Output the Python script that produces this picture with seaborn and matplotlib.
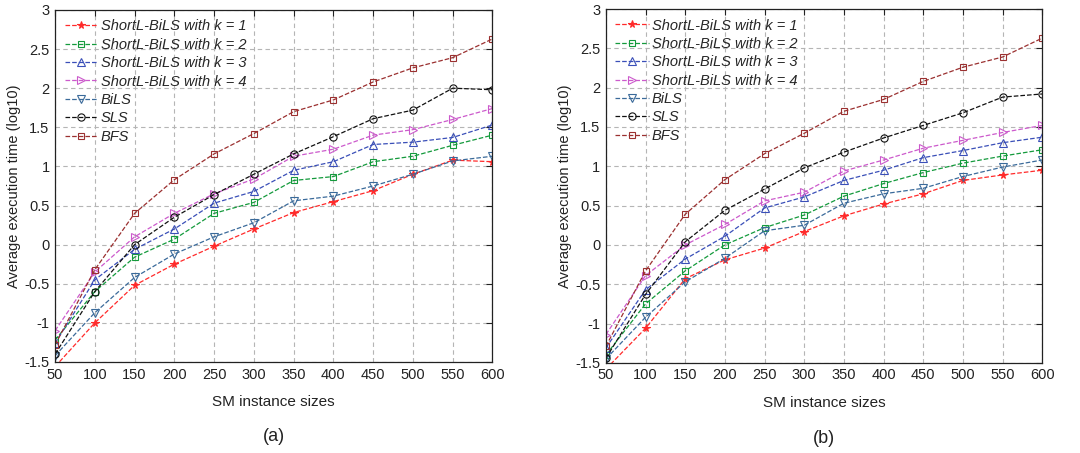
import numpy as np
import pandas as pd
import matplotlib
matplotlib.use("Agg")
import matplotlib.pyplot as plt
import seaborn as sns

sns.set_style("white")
plt.rcParams['font.family'] = ['Liberation Sans', 'DejaVu Sans']

sizes = [50, 100, 150, 200, 250, 300, 350, 400, 450, 500, 550, 600]
names = ['ShortL-BiLS with k = 1', 'ShortL-BiLS with k = 2', 'ShortL-BiLS with k = 3',
         'ShortL-BiLS with k = 4', 'BiLS', 'SLS', 'BFS']

# panel (a)
a_k1 = [-1.56, -1.0, -0.52, -0.25, -0.02, 0.2, 0.41, 0.55, 0.69, 0.9, 1.08, 1.06]
a_k2 = [-1.22, -0.6, -0.16, 0.07, 0.4, 0.54, 0.82, 0.87, 1.06, 1.13, 1.27, 1.4]
a_k3 = [-1.26, -0.45, -0.06, 0.2, 0.53, 0.68, 0.95, 1.06, 1.28, 1.31, 1.37, 1.53]
a_k4 = [-1.1, -0.35, 0.1, 0.4, 0.65, 0.84, 1.13, 1.22, 1.4, 1.47, 1.6, 1.74]
a_bils = [-1.42, -0.87, -0.42, -0.12, 0.1, 0.28, 0.56, 0.62, 0.75, 0.9, 1.07, 1.13]
a_sls = [-1.4, -0.6, 0.0, 0.35, 0.64, 0.9, 1.16, 1.38, 1.61, 1.72, 2.0, 1.98]
a_bfs = [-1.28, -0.32, 0.4, 0.83, 1.16, 1.42, 1.7, 1.85, 2.08, 2.26, 2.39, 2.63]

# panel (b)
b_k1 = [-1.58, -1.06, -0.43, -0.19, -0.04, 0.17, 0.37, 0.52, 0.65, 0.82, 0.89, 0.95]
b_k2 = [-1.4, -0.75, -0.33, 0.0, 0.22, 0.38, 0.62, 0.78, 0.92, 1.04, 1.13, 1.21]
b_k3 = [-1.31, -0.57, -0.18, 0.11, 0.47, 0.61, 0.82, 0.95, 1.11, 1.2, 1.3, 1.37]
b_k4 = [-1.14, -0.39, 0.0, 0.26, 0.56, 0.67, 0.94, 1.08, 1.23, 1.33, 1.43, 1.52]
b_bils = [-1.45, -0.92, -0.47, -0.17, 0.18, 0.25, 0.53, 0.65, 0.72, 0.87, 0.99, 1.08]
b_sls = [-1.44, -0.63, 0.04, 0.44, 0.71, 0.98, 1.18, 1.36, 1.52, 1.68, 1.88, 1.92]
b_bfs = [-1.29, -0.33, 0.39, 0.83, 1.16, 1.42, 1.7, 1.85, 2.08, 2.26, 2.39, 2.63]

colors = ['#ff2a2a', '#149a3c', '#3a4fb8', '#cc5acc', '#3a6a9a', '#111111', '#9b3030']
markers = ['*', 's', '^', '>', 'v', 'o', 's']
msizes = [5.5, 4.5, 5.5, 5.5, 5.5, 5.2, 4.5]

panels = [
    ('(a)', [a_k1, a_k2, a_k3, a_k4, a_bils, a_sls, a_bfs]),
    ('(b)', [b_k1, b_k2, b_k3, b_k4, b_bils, b_sls, b_bfs]),
]

fig = plt.figure(figsize=(10.8, 4.53), dpi=100)
boxes = [[0.051, 0.201, 0.405, 0.777], [0.561, 0.199, 0.404, 0.781]]

for (tag, series), box in zip(panels, boxes):
    ax = fig.add_axes(box)
    rows = []
    for name, vals in zip(names, series):
        for s, v in zip(sizes, vals):
            rows.append({'size': s, 'time': v, 'method': name})
    df = pd.DataFrame(rows)
    for name, c, m, ms in zip(names, colors, markers, msizes):
        sub = df[df['method'] == name]
        sns.lineplot(data=sub, x='size', y='time', ax=ax, color=c, marker=m,
                     linestyle='--', linewidth=0.9, markersize=ms,
                     markerfacecolor='none' if m != '*' else c,
                     markeredgecolor=c, markeredgewidth=0.8, label=name)
    ax.set_xlim(50, 600)
    ax.set_ylim(-1.5, 3)
    ax.set_xticks(sizes)
    ax.set_yticks(np.arange(-1.5, 3.01, 0.5))
    ax.set_yticklabels(['-1.5', '-1', '-0.5', '0', '0.5', '1', '1.5', '2', '2.5', '3'])
    ax.grid(True, linestyle=(0, (4, 3)), color='#b5b5b5', linewidth=0.8)
    ax.tick_params(direction='in', top=True, right=True, length=4, labelsize=10.5,
                   colors='#222222', pad=4)
    for sp in ax.spines.values():
        sp.set_color('#222222')
        sp.set_linewidth(0.9)
    ax.set_xlabel('SM instance sizes', fontsize=11, color='#222222', labelpad=10)
    ax.set_ylabel('Average execution time (log10)', fontsize=10.5, color='#222222', labelpad=2)
    ax.legend(loc='upper left', frameon=False, numpoints=1, handlelength=2.3,
              labelspacing=0.3, borderaxespad=0.35, borderpad=0.3, handletextpad=0.2,
              prop={'style': 'italic', 'size': 10.5})
    ax.text(0.5, -0.213, tag, transform=ax.transAxes, ha='center', va='center',
            fontsize=13, color='#222222')

fig.savefig('out.png', dpi=100)
